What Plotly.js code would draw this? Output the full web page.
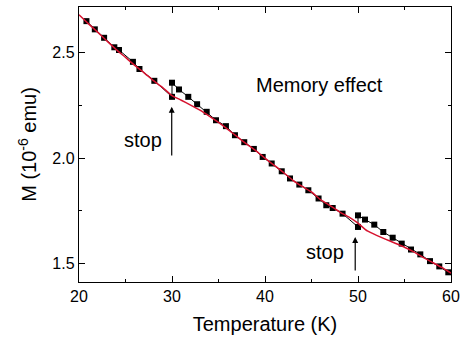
<!DOCTYPE html>
<html>
<head>
<meta charset="utf-8">
<script src="https://cdn.plot.ly/plotly-3.0.1.min.js"></script>
<style>html,body{margin:0;padding:0;background:#fff;}#chart{width:464px;height:345px;}</style>
</head>
<body>
<div id="chart"></div>
<script>
// Memory run (with stops at 30 K and 50 K)
const memoryT = [20.8, 21.7, 22.7, 23.8, 24.3, 25.8, 26.5, 28.1, 30.0,
  30.0, 30.75, 31.75, 32.7, 33.73, 34.73, 35.8, 36.77, 37.77, 38.8, 39.75,
  40.72, 41.8, 42.69, 43.69, 44.66, 45.76, 46.59, 47.28, 48.34, 50.0,
  50.0, 50.75, 51.75, 52.72, 53.73, 54.70, 55.70, 56.70, 57.74, 58.74, 59.71];
const memoryM = [2.650, 2.611, 2.571, 2.526, 2.513, 2.457, 2.423, 2.367, 2.291,
  2.358, 2.326, 2.291, 2.256, 2.220, 2.180, 2.152, 2.109, 2.076, 2.044, 2.006,
  1.975, 1.938, 1.904, 1.875, 1.848, 1.809, 1.777, 1.764, 1.737, 1.674,
  1.729, 1.709, 1.685, 1.650, 1.623, 1.595, 1.567, 1.544, 1.512, 1.487, 1.459];

// Reference run (no stop)
const referenceT = [20, 21, 22, 23, 24, 25, 26, 27, 28, 29, 30, 31, 32, 33, 34, 35, 36, 37, 38, 39, 40,
  41, 42, 43, 44, 45, 46, 47, 48, 49, 50, 51, 52, 53, 54, 55, 56, 57, 58, 59, 60];
const referenceM = [2.680, 2.638, 2.598, 2.556, 2.515, 2.478, 2.440, 2.405, 2.368, 2.335, 2.297,
  2.275, 2.252, 2.228, 2.200, 2.170, 2.137, 2.102, 2.068, 2.036, 2.000,
  1.966, 1.932, 1.895, 1.866, 1.840, 1.802, 1.775, 1.746, 1.722, 1.692,
  1.655, 1.634, 1.615, 1.597, 1.578, 1.556, 1.530, 1.506, 1.482, 1.455];

const xTickVals = [20, 30, 40, 50, 60];
const yTickVals = [1.5, 2.0, 2.5];
const yTickText = ['1.5', '2.0', '2.5'];

const FONT = 'Arial, "Liberation Sans", sans-serif';

const traces = [
  {
    x: memoryT, y: memoryM, type: 'scatter', mode: 'lines+markers',
    line: {color: '#000', width: 1},
    marker: {symbol: 'square', size: 6, color: '#000'},
    showlegend: false
  },
  {
    x: referenceT, y: referenceM, type: 'scatter', mode: 'lines',
    line: {color: '#d6122e', width: 1.5, shape: 'spline', smoothing: 0.4},
    showlegend: false
  }
];

const layout = {
  width: 464, height: 345,
  margin: {l: 79, r: 13, t: 7, b: 63},
  paper_bgcolor: '#fff', plot_bgcolor: '#fff',
  font: {family: FONT, color: '#000', size: 16},
  xaxis: {
    range: [20, 60], tickvals: xTickVals, ticktext: xTickVals.map(String),
    ticks: 'inside', ticklen: 6, tickwidth: 1, tickcolor: '#000',
    minor: {tickvals: [25, 35, 45, 55], ticks: 'inside', ticklen: 3, tickcolor: '#000'},
    showline: true, linecolor: '#000', linewidth: 1.2, mirror: 'ticks',
    showgrid: false, zeroline: false,
    tickfont: {size: 16, family: FONT},
    title: {text: 'Temperature (K)', font: {size: 20, family: FONT}, standoff: 12}
  },
  yaxis: {
    range: [1.413, 2.717], tickvals: yTickVals, ticktext: yTickText,
    ticks: 'inside', ticklen: 6, tickwidth: 1, tickcolor: '#000',
    minor: {tickvals: [1.75, 2.25], ticks: 'inside', ticklen: 3, tickcolor: '#000'},
    showline: true, linecolor: '#000', linewidth: 1.2, mirror: 'ticks',
    showgrid: false, zeroline: false,
    tickfont: {size: 16, family: FONT},
    title: {text: 'M (10<sup>-6</sup> emu)', font: {size: 20, family: FONT}, standoff: 10}
  },
  annotations: [
    {x: 45.9, y: 2.347, xref: 'x', yref: 'y', text: 'Memory effect', showarrow: false,
     font: {size: 20, family: FONT, color: '#000'}},
    {x: 26.85, y: 2.085, xref: 'x', yref: 'y', text: 'stop', showarrow: false,
     font: {size: 20, family: FONT, color: '#000'}},
    {x: 46.45, y: 1.554, xref: 'x', yref: 'y', text: 'stop', showarrow: false,
     font: {size: 20, family: FONT, color: '#000'}},
    {x: 29.97, y: 2.244, xref: 'x', yref: 'y', ax: 29.97, ay: 2.006, axref: 'x', ayref: 'y',
     text: '', showarrow: true, arrowhead: 2, arrowsize: 1, arrowwidth: 1.2, arrowcolor: '#000'},
    {x: 49.7, y: 1.626, xref: 'x', yref: 'y', ax: 49.7, ay: 1.46, axref: 'x', ayref: 'y',
     text: '', showarrow: true, arrowhead: 2, arrowsize: 1, arrowwidth: 1.2, arrowcolor: '#000'}
  ]
};

Plotly.newPlot('chart', traces, layout, {staticPlot: true, displayModeBar: false});
</script>
</body>
</html>
